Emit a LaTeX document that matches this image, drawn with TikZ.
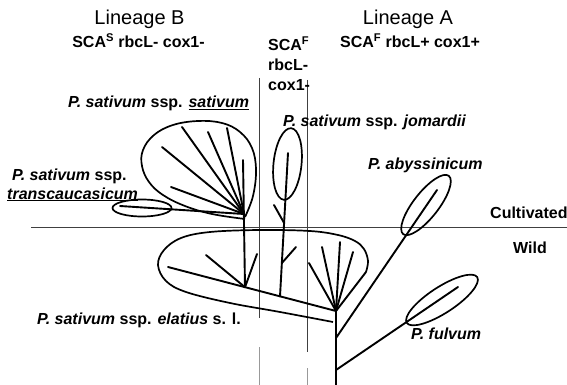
\documentclass[tikz,border=0pt]{standalone}
\usepackage{fontspec}
\setmainfont{Liberation Sans}
\tikzset{
  branch/.style={line width=1.9pt, line cap=round, line join=round},
  blob/.style={line width=1.7pt, line join=round},
  guide/.style={line width=0.7pt, black!75},
  guidelight/.style={line width=0.7pt, black!40},
  lab/.style={font=\fontsize{16}{19}\selectfont\bfseries, inner sep=0pt, anchor=base west},
  labc/.style={font=\fontsize{16}{19}\selectfont\bfseries, inner sep=0pt, anchor=base},
  lin/.style={font=\fontsize{20}{24}\selectfont, inner sep=0pt, anchor=base},
}
\begin{document}
\begin{tikzpicture}[x=1pt,y=-1pt]
\useasboundingbox (0,0) rectangle (567,385);
% guide lines
\draw[guide] (31,227.5) -- (567,227.5);
\draw[guide] (259,78) -- (259,318);
\draw[guidelight] (259,347) -- (259,385);
\draw[guide] (307,80) -- (307,352);
\draw[guidelight] (307,368) -- (307,385);

% coordinates
\coordinate (hS) at (244,214);
\coordinate (tS) at (243,160);
\coordinate (hL) at (245,287.2);
\coordinate (eL) at (168,267);
\coordinate (hE) at (336,311);
\coordinate (bot) at (336,386);
\coordinate (jA) at (336,338);
\coordinate (jF) at (336,370);
\coordinate (tA) at (437,190);
\coordinate (tF) at (458,287);
\coordinate (jTop) at (288,153);
\coordinate (jBot) at (280,296.3);
\coordinate (cT) at (142,208);
\coordinate (cJ) at (287.5,164);
\coordinate (cA) at (426,205);
\coordinate (cF) at (442,300);

% sativum fan
\foreach \p in {(162,147),(182,127),(208,132),(227,128),(171,187),(120,206)}
  \draw[branch] (hS) -- \p;
\draw[branch] (tS) -- (hL);
% sativum balloon
\draw[blob] plot[smooth, tension=0.65] coordinates {(245,217) (253,196) (256,170) (252,148) (240,132) (222,123) (198,121) (173,125) (154,135) (143,150) (142,166) (149,182) (163,195) (185,206) (212,214) (245,219)};
% transcaucasicum ellipse
\draw[blob] (cT) ellipse [x radius=29.5pt, y radius=8.5pt];

% jomardii
\draw[branch] (jTop) -- (jBot);
\draw[branch] (284.1,223) -- (274,205);
\draw[branch] (281.9,263) -- (296,247);
\draw[blob, rotate around={-6:(cJ)}] (cJ) ellipse [x radius=14pt, y radius=36pt];

% elatius
\draw[branch] (eL) -- (hE);
\draw[branch] (hL) -- (206,255);
\draw[branch] (hL) -- (257,254);
\foreach \p in {(309,263),(322,247),(340,242),(353,252),(366,272)}
  \draw[branch] (hE) -- \p;
\draw[blob] plot[smooth, tension=0.6] coordinates {(366,272) (368,261) (364,249) (355,241) (338,235) (310,231) (260,230) (210,232) (181,238) (164,250) (158,265) (166,281) (186,292) (230,303) (280,312) (333,322)};

% trunk and A lineage
\draw[branch] (hE) -- (bot);
\draw[branch] (jA) -- (tA);
\draw[branch] (jF) -- (tF);
\draw[blob, rotate around={52:(cA)}] (cA) ellipse [x radius=37pt, y radius=12.5pt];
\draw[blob, rotate around={33:(cF)}] (cF) ellipse [x radius=42pt, y radius=13pt];

% labels
\node[lin] (linB) at (139.5,25) {Lineage B};
\node[labc] (scaB) at (138.5,48) {SCA\textsuperscript{S} rbcL- cox1-};
\node[lin] (linA) at (408,25) {Lineage A};
\node[labc] (scaA) at (410,48) {SCA\textsuperscript{F} rbcL+ cox1+};
\node[lab] (scaM1) at (268,51) {SCA\textsuperscript{F}};
\node[lab] (scaM2) at (268,71) {rbcL-};
\node[lab] (scaM3) at (268,91) {cox1-};
\node[lab] (lSat) at (68,108) {\textit{P. sativum} ssp. \underline{\textit{sativum}}};
\node[lab] (lJom) at (283,126) {\textit{P. sativum} ssp. \textit{jomardii}};
\node[lab] (lAby) at (368,169) {\textit{P. abyssinicum}};
\node[lab] (lTr1) at (12,180) {\textit{P. sativum} ssp.};
\node[lab] (lTr2) at (7,199) {\underline{\textit{transcaucasicum}}};
\node[lab] (lCul) at (490,218) {Cultivated};
\node[lab] (lWil) at (513,253) {Wild};
\node[lab] (lEla) at (37,324) {\textit{P. sativum} ssp. \textit{elatius} s. l.};
\node[lab] (lFul) at (411,339) {\textit{P. fulvum}};
\end{tikzpicture}
\end{document}
